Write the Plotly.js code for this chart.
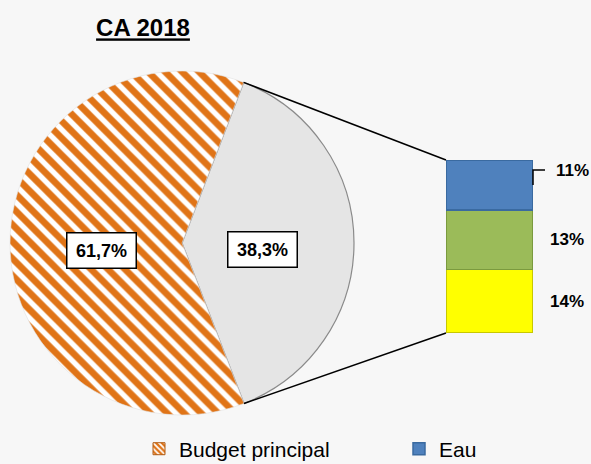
<!DOCTYPE html>
<html>
<head>
<meta charset="utf-8">
<script src="https://cdn.plot.ly/plotly-3.0.1.min.js"></script>
<style>html,body{margin:0;padding:0;background:#f7f7f7;}</style>
</head>
<body>
<div id="chart" style="width:591px;height:464px;"></div>
<script>
// ---- data ----
var pieLabels = ["Autres budgets", "Budget principal"];
var pieValues = [38.3, 61.7];
var pieText = ["38,3%", "61,7%"];
var barNames = ["Budget annexe", "Budget annexe 2", "Eau"]; // bottom to top
var barValues = [14, 13, 11];
var barText = ["14%", "13%", "11%"];
var titleText = "CA 2018";

// ---- geometry ----
var W = 591, H = 464;
var cx = 182, cy = 243, R = 172;
var rotation = 21;
var barLeft = 446, barRight = 533, barTop = 160, barBottom = 333;

function px2x(p){ return p / W; }
function px2y(p){ return 1 - p / H; }

var total = pieValues.reduce(function(a,b){return a+b;},0);
var barTotal = barValues.reduce(function(a,b){return a+b;},0);

var angles = [];
var a0 = rotation;
pieValues.forEach(function(v){
  var span = v / total * 360;
  angles.push({start:a0, end:a0+span, mid:a0+span/2});
  a0 += span;
});
function ptAt(deg, r){
  var t = deg * Math.PI/180;
  return [cx + r*Math.sin(t), cy - r*Math.cos(t)];
}

var fontFam = "Liberation Sans, Arial, sans-serif";
var orange = '#e07417';

var traces = [];
traces.push({
  type:'bar', x:[null], y:[null], name: pieLabels[1], xaxis:'x', yaxis:'y',
  marker:{color:orange, line:{color:'#b05a10',width:1},
          pattern:{shape:'\\', fgcolor:'#ffffff', bgcolor:orange, size:5, solidity:0.45}},
  showlegend:true, hoverinfo:'skip'
});
traces.push({
  type:'pie', labels: pieLabels, values: pieValues, sort:false,
  direction:'clockwise', rotation: rotation,
  textinfo:'none', showlegend:false,
  domain:{x:[px2x(cx-R), px2x(cx+R)], y:[px2y(cy+R), px2y(cy-R)]},
  marker:{colors:['#e5e5e5', orange],
          line:{color:['#8a8a8a','#e0e0e0'], width:[1.2,0.6]},
          pattern:{shape:['','\\'], fgcolor:['#e5e5e5','#ffffff'], bgcolor:['#e5e5e5', orange],
                   fillmode:'replace', size:12, solidity:0.45}}
});
var barColors = ['#ffff00', '#9bbb59', '#4f81bd'];
var barLines = ['#c8c800', '#7a9a3e', '#3a6aa0'];
for (var i=0;i<barValues.length;i++){
  traces.push({
    type:'bar', x:[0], y:[barValues[i]], name: barNames[i], width:1,
    xaxis:'x', yaxis:'y',
    marker:{color:barColors[i], line:{color:barLines[i], width:1.5}},
    showlegend: barNames[i] === 'Eau', hoverinfo:'skip'
  });
}

var pTop = ptAt(angles[0].start, R);
var pBot = ptAt(angles[0].end, R);
var shapes = [
  {type:'line', xref:'paper', yref:'paper', x0:px2x(pTop[0]), y0:px2y(pTop[1]), x1:px2x(barLeft), y1:px2y(barTop), line:{color:'#000', width:1.5}},
  {type:'line', xref:'paper', yref:'paper', x0:px2x(pBot[0]), y0:px2y(pBot[1]), x1:px2x(barLeft), y1:px2y(barBottom), line:{color:'#000', width:1.5}}
];
var topMid = barTotal - barValues[2]/2;
var up = 15 / (barBottom-barTop) * barTotal;
shapes.push({type:'path', xref:'paper', yref:'y',
  path:'M'+px2x(barRight)+','+topMid+' L'+px2x(barRight)+','+(topMid+up)+' L'+px2x(barRight+12)+','+(topMid+up),
  line:{color:'#000', width:1.5}});

var annotations = [];
for (var j=0;j<pieValues.length;j++){
  var p = ptAt(angles[j].mid, R*0.47);
  annotations.push({xref:'paper', yref:'paper', x:px2x(p[0]), y:px2y(p[1]+7),
    xanchor:'center', yanchor:'middle', width:56, height:22,
    text:'<b>'+pieText[j]+'</b>', showarrow:false, bgcolor:'#ffffff',
    bordercolor:'#000', borderwidth:1.5, borderpad:6,
    font:{family:fontFam, size:18, color:'#000'}});
}
var cum = 0;
for (var k=0;k<barValues.length;k++){
  var yv = cum + barValues[k]/2;
  var xp = 567;
  if (k === barValues.length-1){ yv = topMid + up; xp = 572; }
  annotations.push({xref:'paper', yref:'y', x:px2x(xp), y:yv,
    xanchor:'center', yanchor:'middle',
    text:'<b>'+barText[k]+'</b>', showarrow:false,
    font:{family:fontFam, size:17, color:'#000'}});
  cum += barValues[k];
}

var layout = {
  width:W, height:H, margin:{l:0,r:0,t:0,b:0,autoexpand:false},
  paper_bgcolor:'#f7f7f7', plot_bgcolor:'rgba(0,0,0,0)',
  title:{text:'<b><u>'+titleText+'</u></b>', x:143/W, xanchor:'center', xref:'paper',
         y:1-28/H, yanchor:'middle', yref:'paper', font:{family:fontFam, size:24, color:'#000'}},
  barmode:'stack', bargap:0,
  xaxis:{domain:[px2x(barLeft), px2x(barRight)], range:[-0.5,0.5], visible:false, fixedrange:true},
  yaxis:{domain:[px2y(barBottom), px2y(barTop)], range:[0, barTotal], visible:false, fixedrange:true},
  showlegend:true,
  legend:{orientation:'h', x:px2x(139), xanchor:'left', y:-0.012, yanchor:'bottom',
          font:{family:fontFam, size:21, color:'#000'}, traceorder:'normal',
          entrywidth:215, entrywidthmode:'pixels', bgcolor:'rgba(0,0,0,0)'},
  shapes:shapes, annotations:annotations
};
Plotly.newPlot('chart', traces, layout, {displayModeBar:false, staticPlot:true});
</script>
</body>
</html>
